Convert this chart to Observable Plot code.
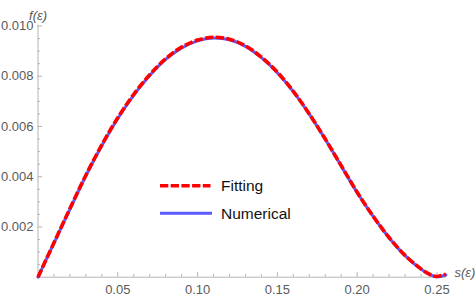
<!DOCTYPE html>
<html><head><meta charset="utf-8">
<script src="https://cdn.jsdelivr.net/npm/d3@7"></script>
<script src="https://cdn.jsdelivr.net/npm/@observablehq/plot@0.6"></script>
<style>
body{margin:0;background:#fff;}
#wrap{position:relative;width:476px;height:300px;}
#wrap svg{position:absolute;left:0;top:0;overflow:visible;}
</style></head><body><div id="wrap"></div>
<script>
// data
const sValues   = [0, 0.01, 0.02, 0.03, 0.04, 0.05, 0.06, 0.07, 0.08, 0.09, 0.10, 0.11, 0.12, 0.13, 0.14, 0.15, 0.16, 0.17, 0.18, 0.19, 0.20, 0.21, 0.22, 0.23, 0.24, 0.245, 0.2495, 0.2556];
const fitting   = [0, 0.00137, 0.00273, 0.00406, 0.00527, 0.00635, 0.00728, 0.00806, 0.00870, 0.00916, 0.00944, 0.00955, 0.00947, 0.00921, 0.00876, 0.00816, 0.00740, 0.00650, 0.00550, 0.00444, 0.00338, 0.00243, 0.00158, 0.00087, 0.00033, 0.00013, 0.00003, 0.00012];
const numerical = [0, 0.00136, 0.00271, 0.00404, 0.00524, 0.00632, 0.00725, 0.00803, 0.00867, 0.00913, 0.00941, 0.00952, 0.00945, 0.00919, 0.00874, 0.00814, 0.00739, 0.00649, 0.00549, 0.00443, 0.00337, 0.00242, 0.00157, 0.00086, 0.00032, 0.00012, 0.00002, 0.00009];
const xTicks = [0.05, 0.10, 0.15, 0.20, 0.25];
const xTickLabels = ["0.05", "0.10", "0.15", "0.20", "0.25"];
const xMinor = [0.01,0.02,0.03,0.04,0.06,0.07,0.08,0.09,0.11,0.12,0.13,0.14,0.16,0.17,0.18,0.19,0.21,0.22,0.23,0.24];
const yTicks = [0.002, 0.004, 0.006, 0.008, 0.010];
const yTickLabels = ["0.002", "0.004", "0.006", "0.008", "0.010"];
const yMinor = [0.0005,0.001,0.0015,0.0025,0.003,0.0035,0.0045,0.005,0.0055,0.0065,0.007,0.0075,0.0085,0.009,0.0095];
const seriesNames = ["Fitting", "Numerical"];
const seriesColors = ["#ff0000", "#5a5aff"];
const xLabel = "s(ε)";
const yLabel = "f(ε)";

const data = sValues.map((s, i) => ({s, fit: fitting[i], num: numerical[i]}));

const W = 476, H = 300;
const mL = 37.5, mR = 30.6, mT = 24.5, mB = 23.3;
const plotW = W - mL - mR, plotH = H - mT - mB;
const axisGray = "#b4b4b4";
const labelGray = "#5a5a5a";
const dash = "8.3,2.4";

const chart = Plot.plot({
  width: W, height: H,
  marginLeft: mL, marginRight: mR, marginTop: mT, marginBottom: mB,
  x: {domain: [0, 0.2556]},
  y: {domain: [0, 0.01004]},
  style: {fontFamily: '"Liberation Sans", Arial, sans-serif', fontSize: "13px", background: "transparent", overflow: "visible"},
  marks: [
    Plot.ruleY([0], {stroke: axisGray}),
    Plot.ruleX([0], {stroke: axisGray}),
    Plot.tickX(xMinor, {stroke: axisGray, insetTop: plotH - 2.7}),
    Plot.tickX(xTicks, {stroke: axisGray, insetTop: plotH - 4.6}),
    Plot.tickY(yMinor, {stroke: axisGray, insetRight: plotW - 2.7}),
    Plot.tickY(yTicks, {stroke: axisGray, insetRight: plotW - 4.6}),
    Plot.axisX(xTicks, {label: null, tickSize: 0, tickPadding: 7.3, tickFormat: d => xTickLabels[xTicks.indexOf(d)], fill: labelGray, fontSize: 13}),
    Plot.axisY(yTicks, {label: null, tickSize: 0, tickPadding: 4.5, tickFormat: d => yTickLabels[yTicks.indexOf(d)], fill: labelGray, fontSize: 13}),
    Plot.line(data, {x: "s", y: "num", stroke: seriesColors[1], strokeWidth: 3, curve: "catmull-rom"}),
    Plot.line(data, {x: "s", y: "fit", stroke: seriesColors[0], strokeWidth: 3.6, strokeDasharray: dash, strokeLinecap: "butt", curve: "catmull-rom"}),
    Plot.text([yLabel], {frameAnchor: "top-left", dy: -14.5, textAnchor: "middle", fontStyle: "italic", fill: labelGray, fontSize: 13}),
    Plot.text([xLabel], {frameAnchor: "bottom-right", dx: 8.6, textAnchor: "start", fontStyle: "italic", fill: labelGray, fontSize: 13})
  ]
});
document.getElementById("wrap").appendChild(chart);

// legend overlay
const leg = d3.select("#wrap").append("svg").attr("width", W).attr("height", H)
  .style("font-family", '"Liberation Sans", Arial, sans-serif');
const legY = [185.7, 213.3];
seriesNames.forEach((name, i) => {
  leg.append("line").attr("x1", 160).attr("x2", i === 0 ? 210.5 : 212)
    .attr("y1", legY[i]).attr("y2", legY[i])
    .attr("stroke", seriesColors[i]).attr("stroke-width", i === 0 ? 3.6 : 3)
    .attr("stroke-dasharray", i === 0 ? dash : null);
  leg.append("text").attr("x", 221).attr("y", legY[i] + 5.6)
    .attr("font-size", 15.5).attr("fill", "#111").text(name);
});
</script></body></html>
